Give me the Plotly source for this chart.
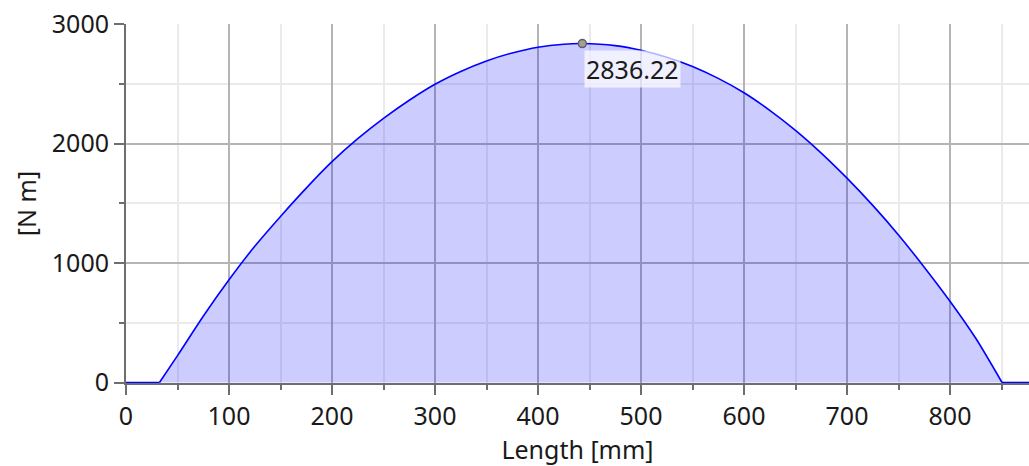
import plotly.graph_objects as go

# Data
length_mm = [0, 32.5, 50, 75, 100, 125, 150, 175, 200, 225, 250, 275, 300, 325,
             350, 375, 400, 425, 443, 475, 500, 525, 550, 575, 600, 625, 650,
             675, 700, 725, 750, 775, 800, 825, 850.5, 877]
moment_nm = [0, 0, 225, 555, 860, 1140, 1390, 1627, 1848, 2040, 2210, 2362, 2496, 2603,
             2691, 2758, 2806, 2831, 2836.22, 2819, 2780, 2722, 2645, 2545, 2425, 2278, 2110,
             1920, 1710, 1482, 1235, 965, 680, 370, 0, 0]
peak_x = 443.0
peak_y = 2836.22

x_title = "Length [mm]"
y_title = "[N m]"
x_ticks = [0, 100, 200, 300, 400, 500, 600, 700, 800]
y_ticks = [0, 1000, 2000, 3000]

FONT = "Noto Sans"
TXT = "#1a1a1a"
BLUE = "#0000ff"

# split into the loaded span (curved) and the unloaded flat ends
nz = [i for i, v in enumerate(moment_nm) if v != 0]
i0, i1 = nz[0] - 1, nz[-1] + 1

fig = go.Figure()
fig.add_trace(go.Scatter(
    x=length_mm[i0:i1 + 1], y=moment_nm[i0:i1 + 1], mode="lines",
    line=dict(color=BLUE, width=1.6, shape="spline", smoothing=0.8),
    fill="tozeroy", fillcolor="rgba(0,0,255,0.2)",
    hoverinfo="skip", showlegend=False,
))
for xs, ys in [(length_mm[:i0 + 1], moment_nm[:i0 + 1]),
               (length_mm[i1:], moment_nm[i1:])]:
    fig.add_trace(go.Scatter(
        x=xs, y=ys, mode="lines", line=dict(color=BLUE, width=1.6),
        hoverinfo="skip", showlegend=False,
    ))
fig.add_trace(go.Scatter(
    x=[peak_x], y=[peak_y], mode="markers",
    marker=dict(size=8, color="#a0a0a0", line=dict(color="#606060", width=1.5)),
    showlegend=False, hoverinfo="skip", cliponaxis=False,
))
fig.add_annotation(
    x=peak_x, y=peak_y, text=f"{peak_y:.2f}", showarrow=False,
    xanchor="left", yanchor="top", xshift=2, yshift=-6,
    bgcolor="rgba(255,255,255,0.7)", borderpad=1,
    font=dict(family=FONT, size=25, color=TXT),
)

axis_common = dict(
    showline=True, linecolor="#6e6e6e", linewidth=2,
    ticks="outside", ticklen=10, tickwidth=1.5, tickcolor="#6e6e6e",
    showgrid=True, gridcolor="#b4b4b4", gridwidth=1.5,
    zeroline=False, layer="below traces",
    tickfont=dict(family=FONT, size=25, color=TXT),
)

fig.update_xaxes(
    **axis_common,
    range=[0, 876.7], tickvals=x_ticks,
    minor=dict(dtick=50, tick0=0, ticks="outside", ticklen=5, tickcolor="#6e6e6e",
               showgrid=True, gridcolor="#ebebeb", gridwidth=1.5),
    title=dict(text=x_title, font=dict(family=FONT, size=25, color=TXT), standoff=3),
)
fig.update_yaxes(
    **axis_common,
    range=[-4, 3000], tickvals=y_ticks,
    minor=dict(dtick=500, tick0=0, ticks="outside", ticklen=5, tickcolor="#6e6e6e",
               showgrid=True, gridcolor="#ebebeb", gridwidth=1.5),
    title=dict(text=y_title, font=dict(family=FONT, size=25, color=TXT), standoff=8),
)

fig.update_layout(
    width=1029, height=466,
    margin=dict(l=126, r=0, t=24, b=83),
    paper_bgcolor="white", plot_bgcolor="white",
    font=dict(family=FONT, color=TXT),
)

fig.write_html("out.html")
